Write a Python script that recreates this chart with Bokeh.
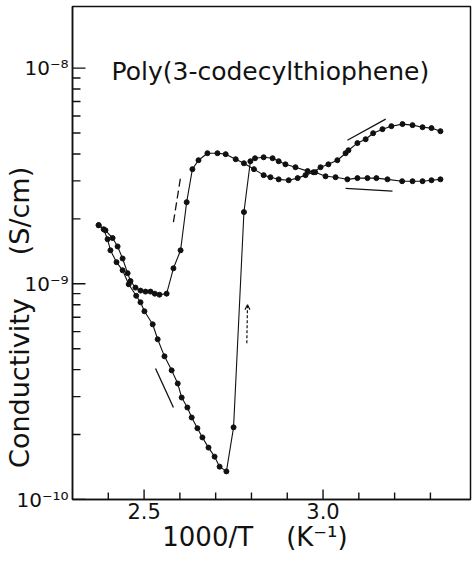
import math
from bokeh.plotting import figure
from bokeh.models import (FixedTicker, CustomJSTickFormatter, Label,
                          Arrow, OpenHead, Range1d)
from bokeh.embed import file_html
from bokeh.resources import INLINE

# ---- data (x = 1000/T in 1/K, conductivity in S/cm) ----
curve_a_x = [2.373, 2.392, 2.412, 2.426, 2.440, 2.454, 2.462, 2.476, 2.490, 2.504,
             2.518, 2.530, 2.543, 2.563, 2.582, 2.602, 2.619, 2.635, 2.652, 2.677,
             2.705, 2.728, 2.756, 2.779, 2.807, 2.834, 2.853, 2.876, 2.904, 2.929,
             2.951, 2.973, 2.993, 3.015, 3.040, 3.063, 3.071, 3.096, 3.119, 3.140,
             3.166, 3.191, 3.222, 3.250, 3.278, 3.303, 3.328]
curve_a_y = [1.87e-9, 1.77e-9, 1.63e-9, 1.49e-9, 1.31e-9, 1.12e-9, 1.03e-9, 9.6e-10, 9.3e-10, 9.2e-10,
             9.2e-10, 9.0e-10, 8.9e-10, 9.0e-10, 1.18e-9, 1.43e-9, 2.39e-9, 3.40e-9, 3.74e-9, 4.03e-9,
             4.03e-9, 3.99e-9, 3.78e-9, 3.62e-9, 3.40e-9, 3.19e-9, 3.12e-9, 3.05e-9, 3.02e-9, 3.09e-9,
             3.19e-9, 3.29e-9, 3.47e-9, 3.58e-9, 3.74e-9, 4.03e-9, 4.16e-9, 4.49e-9, 4.68e-9, 4.99e-9,
             5.21e-9, 5.38e-9, 5.50e-9, 5.44e-9, 5.32e-9, 5.27e-9, 5.10e-9]

curve_b_x = [2.373, 2.387, 2.398, 2.406, 2.423, 2.440, 2.457, 2.478, 2.490, 2.501,
             2.524, 2.538, 2.557, 2.577, 2.594, 2.605, 2.621, 2.633, 2.649, 2.663,
             2.680, 2.697, 2.711, 2.730, 2.750, 2.779, 2.797, 2.810, 2.834, 2.859,
             2.876, 2.895, 2.923, 2.957, 2.978, 3.007, 3.035, 3.068, 3.096, 3.124,
             3.149, 3.180, 3.221, 3.250, 3.278, 3.303, 3.328]
curve_b_y = [1.87e-9, 1.79e-9, 1.61e-9, 1.43e-9, 1.26e-9, 1.155e-9, 9.95e-10, 8.8e-10, 8.21e-10, 7.46e-10,
             6.49e-10, 5.53e-10, 4.61e-10, 3.97e-10, 3.45e-10, 2.97e-10, 2.67e-10, 2.40e-10, 2.14e-10, 1.94e-10,
             1.74e-10, 1.58e-10, 1.42e-10, 1.35e-10, 2.16e-10, 2.15e-9, 3.70e-9, 3.82e-9, 3.86e-9, 3.82e-9,
             3.70e-9, 3.58e-9, 3.47e-9, 3.33e-9, 3.29e-9, 3.15e-9, 3.12e-9, 3.05e-9, 3.09e-9, 3.09e-9,
             3.09e-9, 3.05e-9, 2.99e-9, 2.99e-9, 2.99e-9, 3.02e-9, 3.05e-9]

# guide strokes drawn on the original chart
seg_x0 = [3.068, 3.063, 2.582, 2.532]
seg_y0 = [4.63e-9, 2.77e-9, 1.93e-9, 4.05e-10]
seg_x1 = [3.175, 3.194, 2.602, 2.582]
seg_y1 = [5.80e-9, 2.69e-9, 3.12e-9, 2.67e-10]
seg_dash = ["solid", "solid", "8 4", "solid"]

arrow_x = [2.787, 2.789]
arrow_y = [5.3e-10, 8.0e-10]

x_major_ticks = [2.5, 3.0]
x_minor_ticks = [2.4, 2.6, 2.7, 2.8, 2.9, 3.1, 3.2, 3.3]
y_major_ticks = [1e-10, 1e-9, 1e-8]
y_minor_ticks = [m * 1e-10 for m in range(2, 10)] + [m * 1e-9 for m in range(2, 10)]

x_lo, x_hi = 2.300, 3.412
y_lo, y_hi = 1e-10, 1.93e-8

title_text = "Poly(3-codecylthiophene)"
title_pos = (2.409, 9.68e-9)

FONT = "DejaVu Sans"
INK = "#111111"

p = figure(width=472, height=564, output_backend="svg", toolbar_location=None,
           y_axis_type="log",
           x_range=Range1d(x_lo, x_hi), y_range=Range1d(y_lo, y_hi),
           min_border_left=72, min_border_right=2, min_border_top=6, min_border_bottom=65)
p.grid.visible = False
p.outline_line_color = INK
p.outline_line_width = 1.5
p.background_fill_color = "white"

# axes styling (inward tick marks are drawn below as clipped dash markers)
xa = p.xaxis[0]
xa.ticker = FixedTicker(ticks=x_major_ticks, minor_ticks=x_minor_ticks)
xa.formatter = CustomJSTickFormatter(code="return tick.toFixed(1);")
xa.axis_label = "1000/T" + "\u00a0" * 4 + "(K\u207b\u00b9)" + "\u00a0" * 4
xa.axis_label_text_font = FONT
xa.axis_label_text_font_size = "26px"
xa.axis_label_text_font_style = "normal"
xa.axis_label_text_color = INK
xa.axis_label_standoff = 0
xa.major_label_text_font = FONT
xa.major_label_text_font_size = "21px"
xa.major_label_text_color = INK
xa.major_label_standoff = 3
xa.major_tick_in = 0
xa.major_tick_out = 0
xa.minor_tick_in = 0
xa.minor_tick_out = 0
xa.axis_line_width = 1.5
xa.axis_line_color = INK

ya = p.yaxis[0]
ya.ticker = FixedTicker(ticks=y_major_ticks, minor_ticks=y_minor_ticks)
ya.formatter = CustomJSTickFormatter(code="""
const e = Math.round(Math.log10(tick));
const sup = {"-": "\u207b", "0": "\u2070", "1": "\u00b9", "2": "\u00b2", "3": "\u00b3",
             "4": "\u2074", "5": "\u2075", "6": "\u2076", "7": "\u2077", "8": "\u2078", "9": "\u2079"};
return "10" + String(e).split("").map((c) => sup[c]).join("");
""")
ya.axis_label = "Conductivity" + "\u00a0" * 5 + "(S/cm)" + "\u00a0" * 15
ya.axis_label_text_font = FONT
ya.axis_label_text_font_size = "27px"
ya.axis_label_text_font_style = "normal"
ya.axis_label_text_color = INK
ya.axis_label_standoff = -22
ya.major_label_text_font = FONT
ya.major_label_text_font_size = "20px"
ya.major_label_text_color = INK
ya.major_label_standoff = 4
ya.major_tick_in = 0
ya.major_tick_out = 0
ya.minor_tick_in = 0
ya.minor_tick_out = 0
ya.axis_line_width = 1.5
ya.axis_line_color = INK

# inward tick marks: dash markers centred on the frame edge (outer half clipped)
p.scatter([x_lo] * len(y_major_ticks), y_major_ticks, marker="dash", size=26,
          line_color=INK, line_width=1.4)
p.scatter([x_lo] * len(y_minor_ticks), y_minor_ticks, marker="dash", size=16,
          line_color=INK, line_width=1.4)
p.scatter(x_major_ticks, [y_lo] * len(x_major_ticks), marker="dash", size=20,
          angle=math.pi / 2, line_color=INK, line_width=1.4)
p.scatter(x_minor_ticks, [y_lo] * len(x_minor_ticks), marker="dash", size=14,
          angle=math.pi / 2, line_color=INK, line_width=1.4)

# curves
for cx, cy in ((curve_a_x, curve_a_y), (curve_b_x, curve_b_y)):
    p.line(cx, cy, line_color=INK, line_width=1.1)
    p.scatter(cx, cy, marker="circle", size=5, fill_color=INK, line_color=INK)

# guide strokes
for x0, y0, x1, y1, d in zip(seg_x0, seg_y0, seg_x1, seg_y1, seg_dash):
    p.line([x0, x1], [y0, y1], line_color=INK, line_width=1.3, line_dash=d)

p.add_layout(Arrow(end=OpenHead(size=5, line_color=INK, line_width=1.2),
                   x_start=arrow_x[0], y_start=arrow_y[0], x_end=arrow_x[1], y_end=arrow_y[1],
                   line_color=INK, line_width=1.2, line_dash="3 2"))

p.add_layout(Label(x=title_pos[0], y=title_pos[1], text=title_text,
                   text_font=FONT, text_font_size="25px", text_color=INK,
                   text_baseline="alphabetic", text_align="left"))

open("out.html", "w").write(file_html(p, INLINE))
